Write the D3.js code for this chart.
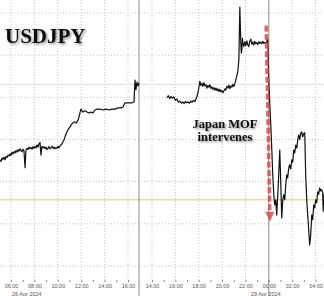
<!DOCTYPE html>
<html>
<head>
<meta charset="utf-8">
<script src="https://cdn.jsdelivr.net/npm/d3@7"></script>
<style>
  body { margin: 0; background: #fff; }
  svg { display: block; }
</style>
</head>
<body>
<div id="chart"></div>
<script>
// 26 Apr session, decimal hours
const leftTimes = [5.06, 5.15, 5.24, 5.32, 5.40, 5.49, 5.57, 5.66, 5.75, 5.83, 5.92, 6.00, 6.09, 6.18, 6.26, 6.34,
    6.43, 6.51, 6.60, 6.68, 6.77, 6.85, 6.94, 7.03, 7.11, 7.20, 7.28, 7.37, 7.45, 7.54, 7.62, 7.71, 7.80, 7.88,
    7.97, 8.05, 8.14, 8.22, 8.31, 8.39, 8.48, 8.56, 8.65, 8.74, 8.82, 8.91, 9.00, 9.08, 9.16, 9.25, 9.33, 9.42,
    9.50, 9.59, 9.68, 9.76, 9.85, 9.93, 10.02, 10.10, 10.19, 10.36, 10.53, 10.70, 10.87,
    11.04, 11.21, 11.38, 11.56, 11.73, 11.81, 11.98, 12.15, 12.32, 12.50, 12.67, 12.84, 13.01, 13.18, 13.35,
    13.61, 13.86, 14.12, 14.38, 14.63, 14.89, 15.15, 15.40, 15.57, 15.74, 15.91, 16.17, 16.34, 16.51, 16.60,
    16.68, 16.77, 16.85, 16.94];
const leftPrices = [156.52, 156.48, 156.56, 156.53, 156.58, 156.52, 156.60, 156.57, 156.63, 156.61, 156.66, 156.62,
    156.70, 156.66, 156.71, 156.68, 156.74, 156.70, 156.76, 156.72, 156.78, 156.74, 156.71, 156.77, 156.73, 156.33,
    156.75, 156.79, 156.76, 156.82, 156.78, 156.81, 156.77, 156.83, 156.79, 156.84, 156.80, 156.87, 156.82, 156.89,
    156.93, 156.63, 156.84, 156.80, 156.83, 156.78, 156.82, 156.76, 156.79, 156.83, 156.78, 156.81, 156.84, 156.79,
    156.82, 156.78, 156.81, 156.79, 156.84, 156.80, 156.85, 156.90, 156.99, 157.13, 157.23, 157.30, 157.37, 157.42,
    157.39, 157.46, 157.54, 157.72, 157.65, 157.68, 157.65, 157.63, 157.65, 157.63, 157.70, 157.72, 157.72, 157.70,
    157.72, 157.70, 157.72, 157.72, 157.75, 157.75, 157.77, 157.87, 157.87, 157.87, 157.87, 157.89, 158.41, 158.18,
    158.36, 158.27, 158.34];

// 28-29 Apr session, hours from 28 Apr 00:00
const rightTimes = [15.28, 15.40, 15.52, 15.63, 15.75, 15.87, 16.00, 16.14, 16.26, 16.39, 16.51, 16.63, 16.74,
    16.86, 16.97, 17.08, 17.20, 17.31, 17.42, 17.55, 17.68, 17.77, 17.85, 17.94, 18.02, 18.10, 18.19, 18.27, 18.36,
    18.44, 18.53, 18.62, 18.70, 18.79, 18.87, 18.96, 19.04, 19.13, 19.21, 19.30, 19.38, 19.47, 19.56, 19.64, 19.73,
    19.81, 19.90, 19.98, 20.07, 20.15, 20.24, 20.32, 20.41, 20.50, 20.58, 20.67, 20.75, 20.84, 20.92, 21.01, 21.10,
    21.18, 21.27, 21.35, 21.44, 21.52, 21.61, 21.65, 21.69, 21.74, 21.78, 21.86, 21.95, 22.03, 22.12, 22.20, 22.29,
    22.37, 22.46, 22.55, 22.63, 22.72, 22.80, 22.89, 22.97, 23.06, 23.15, 23.23, 23.32, 23.40, 23.49, 23.57, 23.66,
    23.75, 23.83, 23.91, 24.00, 24.09, 24.17, 24.26, 24.34, 24.43, 24.51, 24.60, 24.68, 24.77, 24.85, 24.94, 25.03,
    25.11, 25.20, 25.28, 25.37, 25.45, 25.54, 25.62, 25.71, 25.79, 25.88, 25.97, 26.05, 26.14, 26.22, 26.31, 26.40,
    26.48, 26.56, 26.65, 26.73, 26.82, 26.90, 26.99, 27.08, 27.16, 27.25, 27.33, 27.42, 27.50, 27.59, 27.68, 27.76,
    27.85, 27.93, 28.02, 28.10, 28.19, 28.27, 28.36, 28.45, 28.53, 28.62, 28.66, 28.70];
const rightPrices = [157.99, 158.04, 157.97, 158.02, 157.98, 158.01, 157.93, 157.96, 157.88, 157.91, 157.86, 157.89,
    157.85, 157.90, 157.87, 157.89, 157.86, 157.91, 157.88, 157.93, 157.90, 157.96, 158.02, 158.12, 158.24, 158.38,
    158.28, 158.33, 158.26, 158.35, 158.27, 158.30, 158.22, 158.28, 158.24, 158.30, 158.21, 158.25, 158.19, 158.23,
    158.17, 158.22, 158.16, 158.20, 158.14, 158.19, 158.13, 158.16, 158.11, 158.15, 158.20, 158.17, 158.26, 158.22,
    158.29, 158.21, 158.27, 158.24, 158.31, 158.26, 158.33, 158.42, 158.52, 158.62, 158.90, 160.14, 159.24, 159.05,
    159.12, 159.40, 159.30, 159.20, 159.32, 159.22, 159.34, 159.25, 159.20, 159.33, 159.38, 159.26, 159.31, 159.24,
    159.33, 159.27, 159.30, 159.25, 159.32, 159.28, 159.31, 159.27, 159.33, 159.28, 159.30, 159.29, 159.32, 159.38,
    158.41, 157.82, 157.35, 156.75, 156.16, 155.69, 155.45, 155.57, 155.21, 155.69, 156.16, 156.75, 155.92, 155.14,
    155.57, 155.69, 155.57, 155.92, 156.16, 156.09, 156.33, 156.40, 156.30, 156.52, 156.46, 156.75, 156.68, 156.87,
    156.80, 156.99, 157.11, 157.00, 157.14, 157.18, 157.06, 157.14, 157.16, 156.16, 155.57, 155.21, 154.86, 154.50,
    154.74, 155.21, 155.10, 155.45, 155.38, 155.57, 155.50, 155.76, 155.70, 155.85, 155.78, 155.81, 155.74, 155.30,
    155.70];

const leftTicks = [6, 7, 8, 9, 10, 11, 12, 13, 14, 15, 16];
const rightTicks = [14, 15, 16, 17, 18, 19, 20, 21, 22, 23, 24, 25, 26, 27, 28];
const priceGrid = [154, 155, 156, 157, 158, 159, 160];
const refGrey = 158.31;
const refOrange = 155.57;
const leftDate = '26 Apr 2024';
const rightDate = '29 Apr 2024';
// intervention arrow: [hour, price] start and tip
const arrowFrom = [23.78, 159.7];
const arrowTo = [24.1, 155.05];

const width = 324, height = 296;

const svg = d3.select('#chart')
    .append('svg')
    .attr('width', width)
    .attr('height', height)
    .style('background', '#fff');

const defs = svg.append('defs');
defs.append('filter')
    .attr('id', 'shadow')
    .attr('x', '-10%').attr('y', '-20%')
    .attr('width', '130%').attr('height', '160%')
    .append('feDropShadow')
    .attr('dx', 1.5).attr('dy', 1.5)
    .attr('stdDeviation', 1.3)
    .attr('flood-color', '#000')
    .attr('flood-opacity', 0.45);

// Scales: two sessions share the pixel axis
const xL = d3.scaleLinear().domain([6, 16]).range([11, 128]);
const xR = d3.scaleLinear().domain([14, 28]).range([152, 315.5]);
const y = d3.scaleLinear().domain([154, 160]).range([266, 13]);

const hourFmt = h => h % 2 ? '' : String(h % 24).padStart(2, '0') + ':00';

// Horizontal dotted grid
svg.append('g')
    .selectAll('line')
    .data(priceGrid)
    .enter()
    .append('line')
    .attr('x1', 0).attr('x2', width)
    .attr('y1', d => y(d)).attr('y2', d => y(d))
    .attr('stroke', '#c4c4c4')
    .attr('stroke-dasharray', '1,2');

// Vertical dotted grid on even hours
const vGrid = svg.append('g');
vGrid.selectAll('line.l')
    .data(leftTicks.filter(h => h % 2 === 0))
    .enter()
    .append('line')
    .attr('class', 'l')
    .attr('x1', d => xL(d)).attr('x2', d => xL(d))
    .attr('y1', 0).attr('y2', 280)
    .attr('stroke', '#c4c4c4')
    .attr('stroke-dasharray', '1,2');
vGrid.selectAll('line.r')
    .data(rightTicks.filter(h => h % 2 === 0 && h !== 24))
    .enter()
    .append('line')
    .attr('class', 'r')
    .attr('x1', d => xR(d)).attr('x2', d => xR(d))
    .attr('y1', 0).attr('y2', 280)
    .attr('stroke', '#c4c4c4')
    .attr('stroke-dasharray', '1,2');

// Reference levels
svg.append('line')
    .attr('x1', 0).attr('x2', width)
    .attr('y1', y(refGrey)).attr('y2', y(refGrey))
    .attr('stroke', '#e2ded6')
    .attr('stroke-width', 1);
svg.append('line')
    .attr('x1', 0).attr('x2', width)
    .attr('y1', y(refOrange)).attr('y2', y(refOrange))
    .attr('stroke', '#f0d9a6')
    .attr('stroke-width', 1.6);

// Session break and day separator
const breakX = xL(leftTimes[leftTimes.length - 1]);
[breakX, xR(24)].forEach(x => {
    svg.append('line')
        .attr('x1', x).attr('x2', x)
        .attr('y1', 0).attr('y2', height)
        .attr('stroke', '#8a8a8a')
        .attr('stroke-width', 1);
});

// Axes (tick marks + labels only)
const axisStyle = g => {
    g.select('.domain').remove();
    g.selectAll('line').attr('stroke', '#888');
    g.selectAll('text')
        .attr('fill', '#555')
        .style('font-family', '"Liberation Sans", Arial, sans-serif')
        .style('font-size', '5.5px');
};
svg.append('g')
    .attr('transform', 'translate(0,280)')
    .call(d3.axisBottom(xL).tickValues(leftTicks).tickFormat(hourFmt).tickSize(2).tickPadding(2))
    .call(axisStyle);
svg.append('g')
    .attr('transform', 'translate(0,280)')
    .call(d3.axisBottom(xR).tickValues(rightTicks).tickFormat(hourFmt).tickSize(2).tickPadding(2))
    .call(axisStyle);

// Date labels
svg.append('text')
    .attr('x', xL(6) + 1)
    .attr('y', 295.5)
    .attr('fill', '#555')
    .style('font-family', '"Liberation Sans", Arial, sans-serif')
    .style('font-size', '5.5px')
    .text(leftDate);
svg.append('text')
    .attr('x', xR(24) - 3)
    .attr('y', 295.5)
    .attr('text-anchor', 'middle')
    .attr('fill', '#555')
    .style('font-family', '"Liberation Sans", Arial, sans-serif')
    .style('font-size', '5.5px')
    .text(rightDate);

// Price line
const line = d3.line()
    .x(d => d.x)
    .y(d => y(d.p));
const leftData = leftTimes.map((h, i) => ({x: xL(h), p: leftPrices[i]}));
const rightData = rightTimes.map((h, i) => ({x: xR(h), p: rightPrices[i]}));
[leftData, rightData].forEach(data => {
    svg.append('path')
        .datum(data)
        .attr('d', line)
        .attr('fill', 'none')
        .attr('stroke', '#111')
        .attr('stroke-width', 1.2)
        .attr('stroke-linejoin', 'round');
});

// Intervention arrow
const ax1 = xR(arrowFrom[0]), ay1 = y(arrowFrom[1]);
const ax2 = xR(arrowTo[0]), ay2 = y(arrowTo[1]);
const ang = Math.atan2(ay2 - ay1, ax2 - ax1);
const headLen = 10, headW = 4.5;
const bx = ax2 - headLen * Math.cos(ang), by = ay2 - headLen * Math.sin(ang);
svg.append('line')
    .attr('x1', ax1).attr('y1', ay1)
    .attr('x2', bx).attr('y2', by)
    .attr('stroke', '#dd4a4a')
    .attr('stroke-opacity', 0.85)
    .attr('stroke-width', 3.5)
    .attr('stroke-dasharray', '6,2.5');
svg.append('polygon')
    .attr('points', [
        [ax2, ay2],
        [bx + headW * Math.sin(ang), by - headW * Math.cos(ang)],
        [bx - headW * Math.sin(ang), by + headW * Math.cos(ang)]
    ].map(p => p.join(',')).join(' '))
    .attr('fill', '#dd4a4a')
    .attr('fill-opacity', 0.85);

// Title
svg.append('text')
    .attr('x', 5)
    .attr('y', 43)
    .attr('fill', '#111')
    .attr('filter', 'url(#shadow)')
    .style('font-family', '"Liberation Serif", "Times New Roman", serif')
    .style('font-weight', 'bold')
    .style('font-size', '21px')
    .text('USDJPY');

// Annotation
const note = svg.append('text')
    .attr('text-anchor', 'middle')
    .attr('fill', '#111')
    .attr('filter', 'url(#shadow)')
    .style('font-family', '"Liberation Serif", "Times New Roman", serif')
    .style('font-weight', 'bold')
    .style('font-size', '12.5px');
note.append('tspan').attr('x', 225).attr('y', 128).text('Japan MOF');
note.append('tspan').attr('x', 225).attr('y', 141).text('intervenes');
</script>
</body>
</html>
